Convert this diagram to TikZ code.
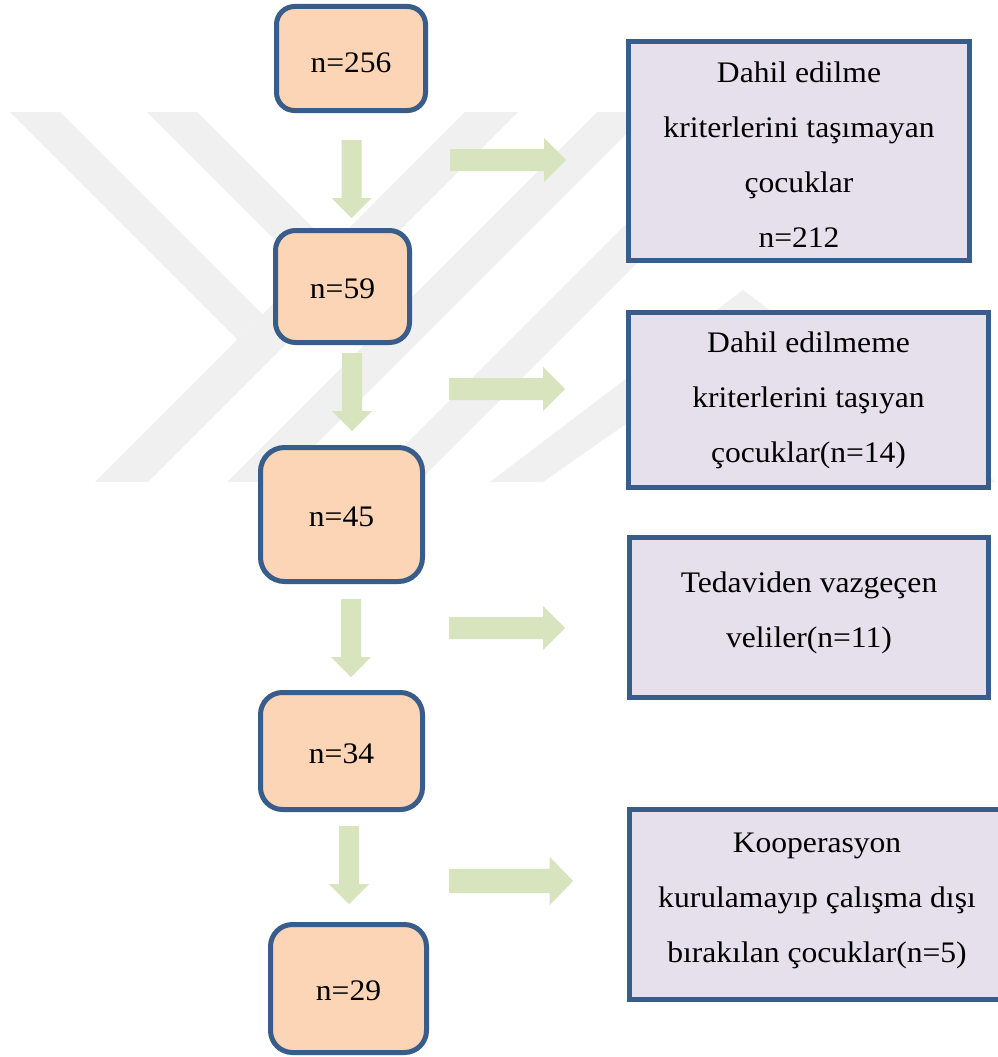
\documentclass[tikz,border=0pt]{standalone}
\usepackage{fontspec}
\setmainfont{Liberation Serif}[FakeStretch=1.06]
\definecolor{boxline}{RGB}{56,93,138}
\definecolor{peach}{RGB}{251,213,181}
\definecolor{lav}{RGB}{229,224,236}
\definecolor{arrowgreen}{RGB}{215,228,189}
\definecolor{wmgray}{RGB}{240,240,240}
\newcommand\fs{\fontsize{29.8}{55}\selectfont}
\begin{document}
\begin{tikzpicture}[x=1pt,y=-1pt,
  lbox/.style={draw=boxline, fill=peach, line width=5pt, rounded corners=20pt, inner sep=0pt},
  rbox/.style={draw=boxline, fill=lav, line width=5pt, inner sep=0pt},
  btext/.style={inner sep=0pt, align=center, font=\fs},
  wm/.style={fill=wmgray},
  downarr/.pic={\fill[arrowgreen] (-10,0) -- (10,0) -- (10,58) -- (20,58) -- (0,78) -- (-20,58) -- (-10,58) -- cycle;},
  rightarr/.pic={\fill[arrowgreen] (0,-11) -- (94,-11) -- (94,-22) -- (116,0) -- (94,22) -- (94,11) -- (0,11) -- cycle;}
]
\useasboundingbox (0,0) rectangle (997,1057);
\fill[white] (0,0) rectangle (997,1057);
% watermark
\begin{scope}
  \clip (0,112) rectangle (997,482);
  \fill[wm] (10,112) -- (60,112) -- (262.5,314.5) -- (237.5,339.5) -- cycle;
  \fill[wm] (465,112) -- (518,112) -- (148,482) -- (95,482) -- cycle;
  \fill[wm] (147,112) -- (197,112) -- (397,312) -- (372,337) -- cycle;
  \fill[wm] (597,112) -- (648,112) -- (278,482) -- (227,482) -- cycle;
  \fill[wm] (738,112) -- (788,112) -- (418,482) -- (368,482) -- cycle;
  \fill[wm] (490,482) -- (743,290) -- (996,482) -- (943,482) -- (743,342) -- (543,482) -- cycle;
\end{scope}
% block arrows
\pic (d1) at (351.5,140) {downarr};
\pic (d2) at (352,353) {downarr};
\pic (d3) at (351,599) {downarr};
\pic (d4) at (349,826) {downarr};
\pic (s1) at (450,160) {rightarr};
\pic (s2) at (449,389) {rightarr};
\pic (s3) at (449,628) {rightarr};
\pic[xscale=1.07,yscale=1.1] (s4) at (449,881) {rightarr};
% left column
\node[lbox, rounded corners=18pt, minimum width=149pt, minimum height=104pt] (b1) at (351,58.5) {};
\node[btext] (b1t) at ([yshift=-4pt]b1.center) {n=256};
\node[lbox, minimum width=134pt, minimum height=112pt] (b2) at (342.5,286.5) {};
\node[btext] (b2t) at ([yshift=-2pt]b2.center) {n=59};
\node[lbox, rounded corners=24pt, minimum width=162pt, minimum height=134pt] (b3) at (341.5,514.5) {};
\node[btext] (b3t) at ([yshift=-2pt]b3.center) {n=45};
\node[lbox, rounded corners=22pt, minimum width=162pt, minimum height=117pt] (b4) at (341.5,751) {};
\node[btext] (b4t) at ([yshift=-3pt]b4.center) {n=34};
\node[lbox, rounded corners=22pt, minimum width=156pt, minimum height=128pt] (b5) at (348.5,988.5) {};
\node[btext] (b5t) at ([yshift=-2pt]b5.center) {n=29};
% right column
\node[rbox, minimum width=341pt, minimum height=219pt] (r1) at (799,151) {};
\node[btext] (r1t) at ([yshift=-4pt]r1.center) {Dahil edilme\\kriterlerini taşımayan\\çocuklar\\n=212};
\node[rbox, minimum width=360pt, minimum height=175pt] (r2) at (808.5,400) {};
\node[btext] (r2t) at (r2.center) {Dahil edilmeme\\kriterlerini taşıyan\\çocuklar(n=14)};
\node[rbox, minimum width=359pt, minimum height=160pt] (r3) at (809,617.5) {};
\node[btext] (r3t) at ([yshift=5pt]r3.center) {Tedaviden vazgeçen\\veliler(n=11)};
\node[rbox, minimum width=375pt, minimum height=190pt] (r4) at (817,904.5) {};
\node[btext] (r4t) at ([yshift=4pt]r4.center) {Kooperasyon\\kurulamayıp çalışma dışı\\bırakılan çocuklar(n=5)};
\end{tikzpicture}
\end{document}
